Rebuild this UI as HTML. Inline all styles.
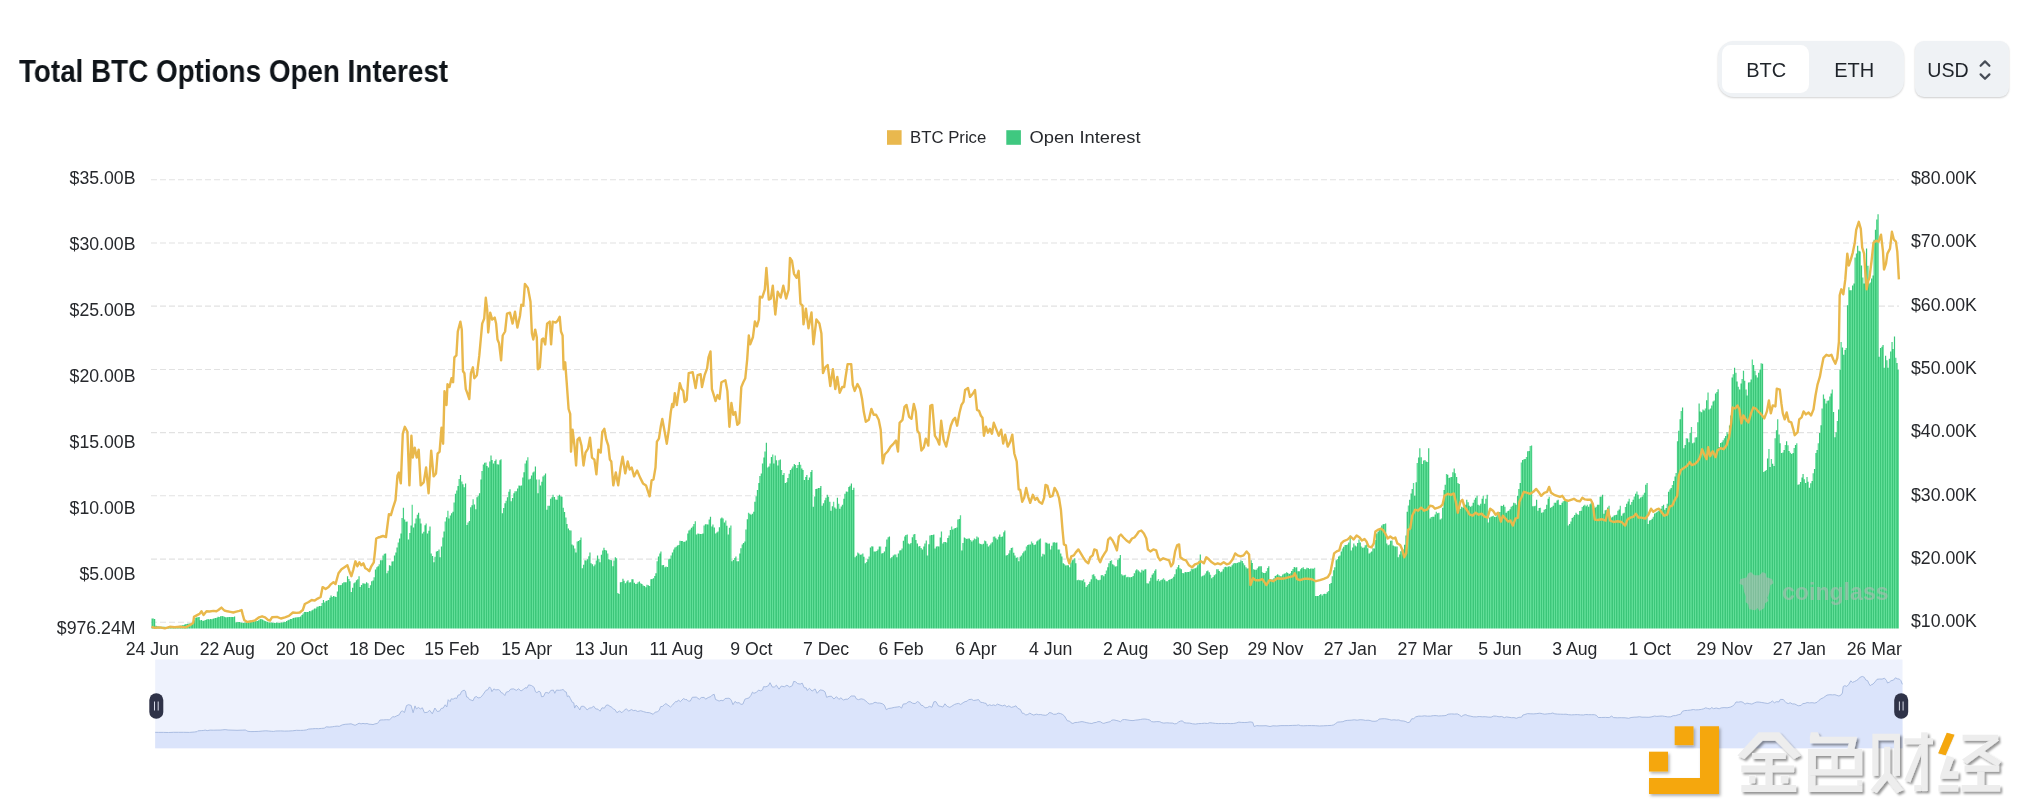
<!DOCTYPE html>
<html><head><meta charset="utf-8"><title>Total BTC Options Open Interest</title>
<style>
html,body{margin:0;padding:0;background:#fff;}
body{width:2017px;height:811px;overflow:hidden;position:relative;font-family:"Liberation Sans",sans-serif;}
#title{position:absolute;left:19px;top:52.8px;font-size:30.5px;font-weight:bold;color:#0f1419;white-space:nowrap;line-height:36px;transform-origin:0 50%;transform:scaleX(0.912);}
#seg{position:absolute;left:1717.5px;top:41px;width:185.5px;height:56px;border-radius:16px;background:#eff2f5;box-shadow:0 1px 2px rgba(0,0,0,.18);}
#seg .on{position:absolute;left:4.2px;top:4px;width:87.3px;height:48px;border-radius:8.5px;background:#fff;}
#seg span{position:absolute;top:0;line-height:59px;font-size:20px;color:#1e2329;transform:translateX(-50%);}
#usd{position:absolute;left:1915px;top:41px;width:94px;height:56px;border-radius:9px;background:#eff2f5;box-shadow:0 1px 2px rgba(0,0,0,.2);}
#usd span{position:absolute;left:33.2px;top:0;line-height:59px;font-size:20px;color:#1e2329;transform:translateX(-50%) scaleX(0.98);}
svg{position:absolute;left:0;top:0;}
#main,#title,#seg,#usd{will-change:transform;}
.ax text{font-size:17.7px;fill:#26282c;}
</style></head><body>
<div id="title">Total BTC Options Open Interest</div>
<div id="seg"><div class="on"></div><span style="left:48.2px">BTC</span><span style="left:136.2px">ETH</span></div>
<div id="usd"><span>USD</span>
<svg width="94" height="56" viewBox="0 0 94 56"><path d="M65.6 24.8 L70 20.4 L74.4 24.8 M65.6 33.4 L70 37.8 L74.4 33.4" fill="none" stroke="#474d57" stroke-width="2.2" stroke-linecap="round" stroke-linejoin="round"/></svg></div>
<svg id="main" width="2017" height="811" viewBox="0 0 2017 811" font-family="Liberation Sans, sans-serif">
<defs>
<pattern id="st" width="2.54" height="10" patternUnits="userSpaceOnUse"><rect width="2.54" height="10" fill="#3fca83"/><rect x="1.7" width="0.84" height="10" fill="#62d99c"/></pattern>
<linearGradient id="sg" gradientUnits="userSpaceOnUse" x1="2.1" y1="0" x2="4.455" y2="0" spreadMethod="repeat"><stop offset="0" stop-color="#62df99"/><stop offset=".3" stop-color="#62df99"/><stop offset=".5" stop-color="#3bc679"/><stop offset=".82" stop-color="#3bc679"/><stop offset="1" stop-color="#62df99"/></linearGradient>
<filter id="sh" x="-10%" y="-10%" width="130%" height="130%"><feDropShadow dx="2" dy="2.2" stdDeviation="1.3" flood-color="#000" flood-opacity=".42"/></filter>
<filter id="sh2" x="-10%" y="-10%" width="130%" height="130%"><feDropShadow dx="1.5" dy="2" stdDeviation="1.5" flood-color="#000" flood-opacity=".3"/></filter>
</defs>
<g stroke="#e2e2e2" stroke-width="1.05" stroke-dasharray="6 3"><line x1="151" x2="1899" y1="179.7" y2="179.7"/><line x1="151" x2="1899" y1="242.9" y2="242.9"/><line x1="151" x2="1899" y1="306.1" y2="306.1"/><line x1="151" x2="1899" y1="369.4" y2="369.4"/><line x1="151" x2="1899" y1="432.6" y2="432.6"/><line x1="151" x2="1899" y1="495.8" y2="495.8"/><line x1="151" x2="1899" y1="559.1" y2="559.1"/><line x1="151" x2="1899" y1="622.3" y2="622.3"/></g>
<rect x="887" y="130.2" width="14.6" height="14.6" fill="#e9b84e"/><rect x="1006.3" y="130.2" width="14.6" height="14.6" fill="#3fc880"/>
<g class="ax"><text x="910" y="143.3" font-size="17" textLength="76.3" lengthAdjust="spacingAndGlyphs" style="font-size:17px">BTC Price</text><text x="1029.5" y="143.3" textLength="111" lengthAdjust="spacingAndGlyphs" style="font-size:17px">Open Interest</text>
<text x="135.5" y="184.0" text-anchor="end">$35.00B</text><text x="135.5" y="249.5" text-anchor="end">$30.00B</text><text x="135.5" y="315.5" text-anchor="end">$25.00B</text><text x="135.5" y="381.5" text-anchor="end">$20.00B</text><text x="135.5" y="448.0" text-anchor="end">$15.00B</text><text x="135.5" y="514.0" text-anchor="end">$10.00B</text><text x="135.5" y="580.0" text-anchor="end">$5.00B</text><text x="135.5" y="633.5" text-anchor="end">$976.24M</text><text x="1911" y="184.0">$80.00K</text><text x="1911" y="247.0">$70.00K</text><text x="1911" y="310.5">$60.00K</text><text x="1911" y="373.5">$50.00K</text><text x="1911" y="437.0">$40.00K</text><text x="1911" y="500.5">$30.00K</text><text x="1911" y="563.5">$20.00K</text><text x="1911" y="627.0">$10.00K</text><text x="152.3" y="655" text-anchor="middle">24 Jun</text><text x="227.2" y="655" text-anchor="middle">22 Aug</text><text x="302.0" y="655" text-anchor="middle">20 Oct</text><text x="376.9" y="655" text-anchor="middle">18 Dec</text><text x="451.8" y="655" text-anchor="middle">15 Feb</text><text x="526.7" y="655" text-anchor="middle">15 Apr</text><text x="601.5" y="655" text-anchor="middle">13 Jun</text><text x="676.4" y="655" text-anchor="middle">11 Aug</text><text x="751.3" y="655" text-anchor="middle">9 Oct</text><text x="826.1" y="655" text-anchor="middle">7 Dec</text><text x="901.0" y="655" text-anchor="middle">6 Feb</text><text x="975.9" y="655" text-anchor="middle">6 Apr</text><text x="1050.7" y="655" text-anchor="middle">4 Jun</text><text x="1125.6" y="655" text-anchor="middle">2 Aug</text><text x="1200.5" y="655" text-anchor="middle">30 Sep</text><text x="1275.4" y="655" text-anchor="middle">29 Nov</text><text x="1350.2" y="655" text-anchor="middle">27 Jan</text><text x="1425.1" y="655" text-anchor="middle">27 Mar</text><text x="1500.0" y="655" text-anchor="middle">5 Jun</text><text x="1574.8" y="655" text-anchor="middle">3 Aug</text><text x="1649.7" y="655" text-anchor="middle">1 Oct</text><text x="1724.6" y="655" text-anchor="middle">29 Nov</text><text x="1799.4" y="655" text-anchor="middle">27 Jan</text><text x="1874.3" y="655" text-anchor="middle">26 Mar</text></g>
<path d="M151.50 628.5V618.5h1.269V618.5h1.269V618.9h1.269V625.8h1.269V626.2h1.269V626.6h1.269V626.8h1.269V626.8h1.269V626.8h1.269V626.8h1.269V626.8h1.269V626.9h1.269V626.9h1.269V626.8h1.269V626.8h1.269V626.7h1.269V626.6h1.269V626.5h1.269V626.4h1.269V626.3h1.269V626.0h1.269V625.9h1.269V625.8h1.269V625.4h1.269V625.2h1.269V624.9h1.269V624.3h1.269V624.1h1.269V623.8h1.269V623.6h1.269V623.4h1.269V623.2h1.269V622.9h1.269V620.3h1.269V617.9h1.269V617.5h1.269V617.2h1.269V616.9h1.269V620.3h1.269V620.1h1.269V620.9h1.269V620.5h1.269V619.9h1.269V619.4h1.269V618.9h1.269V619.4h1.269V618.9h1.269V619.3h1.269V618.7h1.269V618.3h1.269V617.9h1.269V617.8h1.269V616.8h1.269V616.9h1.269V616.3h1.269V615.9h1.269V616.3h1.269V616.8h1.269V617.2h1.269V617.3h1.269V617.0h1.269V617.0h1.269V617.0h1.269V616.9h1.269V616.9h1.269V616.5h1.269V622.5h1.269V622.1h1.269V622.0h1.269V621.9h1.269V622.4h1.269V622.8h1.269V622.9h1.269V622.6h1.269V622.5h1.269V622.4h1.269V622.3h1.269V622.2h1.269V621.9h1.269V621.5h1.269V621.4h1.269V621.2h1.269V621.1h1.269V620.9h1.269V620.3h1.269V619.2h1.269V618.9h1.269V619.6h1.269V620.3h1.269V620.9h1.269V621.6h1.269V621.7h1.269V622.5h1.269V622.4h1.269V622.6h1.269V622.7h1.269V622.8h1.269V622.9h1.269V622.6h1.269V622.7h1.269V622.9h1.269V622.7h1.269V622.5h1.269V622.4h1.269V621.8h1.269V621.9h1.269V620.9h1.269V620.3h1.269V619.8h1.269V618.9h1.269V619.0h1.269V618.0h1.269V617.8h1.269V617.6h1.269V617.3h1.269V617.2h1.269V617.1h1.269V616.5h1.269V614.9h1.269V613.6h1.269V611.9h1.269V612.0h1.269V612.1h1.269V612.1h1.269V611.0h1.269V611.3h1.269V610.3h1.269V609.6h1.269V608.6h1.269V608.6h1.269V606.8h1.269V606.5h1.269V606.1h1.269V606.0h1.269V603.1h1.269V600.0h1.269V602.6h1.269V600.9h1.269V600.4h1.269V600.0h1.269V597.7h1.269V595.6h1.269V597.0h1.269V596.0h1.269V596.4h1.269V597.0h1.269V591.4h1.269V585.1h1.269V585.3h1.269V585.1h1.269V583.2h1.269V582.2h1.269V582.3h1.269V582.2h1.269V576.2h1.269V579.1h1.269V581.2h1.269V592.1h1.269V587.8h1.269V583.2h1.269V582.3h1.269V580.2h1.269V579.3h1.269V576.2h1.269V587.1h1.269V585.0h1.269V583.2h1.269V583.6h1.269V583.7h1.269V582.2h1.269V583.2h1.269V588.1h1.269V585.3h1.269V581.2h1.269V580.5h1.269V577.2h1.269V569.6h1.269V567.3h1.269V566.3h1.269V564.2h1.269V560.3h1.269V560.2h1.269V555.5h1.269V553.8h1.269V553.4h1.269V573.2h1.269V570.7h1.269V565.3h1.269V565.7h1.269V561.6h1.269V561.3h1.269V555.4h1.269V552.5h1.269V547.4h1.269V542.6h1.269V538.5h1.269V533.5h1.269V517.9h1.269V507.7h1.269V519.6h1.269V521.7h1.269V521.6h1.269V539.5h1.269V532.9h1.269V525.6h1.269V504.7h1.269V527.6h1.269V523.6h1.269V518.6h1.269V514.7h1.269V512.7h1.269V518.6h1.269V523.6h1.269V533.5h1.269V531.8h1.269V525.2h1.269V523.6h1.269V533.5h1.269V530.8h1.269V526.6h1.269V553.4h1.269V555.9h1.269V562.3h1.269V556.7h1.269V551.4h1.269V550.9h1.269V549.4h1.269V557.3h1.269V546.4h1.269V537.6h1.269V531.5h1.269V521.6h1.269V517.2h1.269V510.7h1.269V518.6h1.269V515.4h1.269V513.2h1.269V511.7h1.269V502.5h1.269V493.8h1.269V490.5h1.269V485.9h1.269V478.9h1.269V475.0h1.269V481.4h1.269V484.3h1.269V487.3h1.269V483.4h1.269V525.1h1.269V522.5h1.269V521.1h1.269V507.2h1.269V505.2h1.269V499.3h1.269V504.5h1.269V509.2h1.269V497.3h1.269V495.7h1.269V493.3h1.269V479.4h1.269V471.0h1.269V464.5h1.269V462.8h1.269V462.5h1.269V466.1h1.269V467.5h1.269V461.4h1.269V455.6h1.269V460.1h1.269V463.5h1.269V460.9h1.269V459.6h1.269V464.3h1.269V464.5h1.269V460.3h1.269V459.2h1.269V513.2h1.269V508.0h1.269V503.2h1.269V500.8h1.269V497.3h1.269V491.8h1.269V489.3h1.269V501.2h1.269V498.1h1.269V493.3h1.269V491.2h1.269V491.3h1.269V488.6h1.269V485.4h1.269V485.8h1.269V485.4h1.269V477.4h1.269V472.3h1.269V463.5h1.269V460.5h1.269V457.2h1.269V479.4h1.269V478.8h1.269V475.4h1.269V472.4h1.269V471.5h1.269V466.5h1.269V479.5h1.269V493.3h1.269V479.4h1.269V485.4h1.269V481.8h1.269V476.4h1.269V475.3h1.269V473.4h1.269V509.7h1.269V505.8h1.269V505.7h1.269V498.8h1.269V497.2h1.269V494.8h1.269V496.9h1.269V499.4h1.269V499.8h1.269V496.1h1.269V494.8h1.269V496.3h1.269V496.8h1.269V507.7h1.269V512.0h1.269V517.6h1.269V524.1h1.269V528.6h1.269V530.3h1.269V530.5h1.269V544.4h1.269V545.6h1.269V548.4h1.269V552.4h1.269V541.5h1.269V541.0h1.269V540.0h1.269V537.5h1.269V568.3h1.269V564.8h1.269V560.3h1.269V560.4h1.269V559.3h1.269V556.3h1.269V552.4h1.269V563.3h1.269V564.2h1.269V566.3h1.269V564.6h1.269V560.4h1.269V555.4h1.269V558.8h1.269V562.3h1.269V554.8h1.269V550.4h1.269V547.8h1.269V550.0h1.269V550.4h1.269V553.5h1.269V559.3h1.269V560.1h1.269V560.3h1.269V566.3h1.269V560.4h1.269V557.3h1.269V558.3h1.269V593.1h1.269V594.1h1.269V582.2h1.269V582.0h1.269V578.8h1.269V580.8h1.269V583.2h1.269V581.4h1.269V580.2h1.269V582.6h1.269V582.2h1.269V579.3h1.269V579.2h1.269V582.7h1.269V584.1h1.269V583.8h1.269V582.2h1.269V581.5h1.269V583.2h1.269V583.9h1.269V585.6h1.269V586.1h1.269V587.2h1.269V584.8h1.269V585.2h1.269V586.1h1.269V579.2h1.269V579.0h1.269V578.2h1.269V575.9h1.269V573.2h1.269V561.3h1.269V556.4h1.269V553.4h1.269V551.4h1.269V565.3h1.269V564.9h1.269V567.3h1.269V566.6h1.269V566.9h1.269V559.3h1.269V558.8h1.269V555.4h1.269V552.5h1.269V549.6h1.269V547.4h1.269V546.7h1.269V545.4h1.269V545.0h1.269V540.7h1.269V541.1h1.269V541.1h1.269V541.9h1.269V541.6h1.269V540.5h1.269V533.5h1.269V530.5h1.269V529.6h1.269V527.8h1.269V526.6h1.269V524.1h1.269V521.2h1.269V534.5h1.269V533.5h1.269V533.7h1.269V533.9h1.269V534.1h1.269V533.5h1.269V525.6h1.269V524.2h1.269V524.2h1.269V524.6h1.269V519.5h1.269V516.7h1.269V526.6h1.269V524.6h1.269V527.6h1.269V533.5h1.269V532.6h1.269V531.5h1.269V527.2h1.269V518.6h1.269V517.5h1.269V518.6h1.269V522.6h1.269V520.6h1.269V525.8h1.269V534.5h1.269V527.8h1.269V525.6h1.269V561.3h1.269V560.1h1.269V558.1h1.269V556.4h1.269V561.3h1.269V561.3h1.269V553.4h1.269V548.2h1.269V544.4h1.269V543.0h1.269V541.5h1.269V529.6h1.269V519.3h1.269V512.7h1.269V513.8h1.269V514.7h1.269V513.7h1.269V511.7h1.269V501.8h1.269V496.2h1.269V489.9h1.269V483.0h1.269V476.0h1.269V473.4h1.269V463.5h1.269V457.5h1.269V451.6h1.269V442.7h1.269V467.5h1.269V466.4h1.269V463.5h1.269V457.1h1.269V454.6h1.269V463.5h1.269V455.6h1.269V460.3h1.269V465.5h1.269V460.2h1.269V459.6h1.269V469.9h1.269V475.0h1.269V473.0h1.269V482.9h1.269V482.3h1.269V477.9h1.269V473.8h1.269V470.0h1.269V468.5h1.269V466.4h1.269V464.0h1.269V465.0h1.269V468.0h1.269V465.1h1.269V462.1h1.269V464.7h1.269V468.5h1.269V470.0h1.269V479.9h1.269V476.9h1.269V475.0h1.269V479.9h1.269V477.5h1.269V472.0h1.269V470.0h1.269V506.7h1.269V496.6h1.269V488.9h1.269V488.7h1.269V487.9h1.269V488.0h1.269V485.9h1.269V505.7h1.269V503.3h1.269V500.3h1.269V497.8h1.269V494.8h1.269V496.8h1.269V501.8h1.269V510.7h1.269V506.2h1.269V501.8h1.269V507.4h1.269V508.7h1.269V497.8h1.269V503.7h1.269V508.7h1.269V506.6h1.269V504.7h1.269V498.7h1.269V493.8h1.269V491.5h1.269V491.8h1.269V486.9h1.269V485.8h1.269V483.5h1.269V489.9h1.269V487.8h1.269V557.3h1.269V555.8h1.269V552.4h1.269V553.5h1.269V554.8h1.269V554.4h1.269V553.4h1.269V556.8h1.269V563.3h1.269V562.0h1.269V559.3h1.269V556.6h1.269V547.4h1.269V546.3h1.269V546.4h1.269V551.4h1.269V551.6h1.269V551.1h1.269V549.4h1.269V546.6h1.269V546.4h1.269V553.4h1.269V552.9h1.269V551.4h1.269V546.7h1.269V539.5h1.269V537.2h1.269V536.5h1.269V558.3h1.269V557.1h1.269V555.4h1.269V554.4h1.269V554.6h1.269V557.3h1.269V553.6h1.269V550.4h1.269V550.2h1.269V548.4h1.269V540.8h1.269V536.5h1.269V535.1h1.269V534.5h1.269V543.4h1.269V544.3h1.269V543.1h1.269V537.3h1.269V534.5h1.269V533.9h1.269V540.1h1.269V543.4h1.269V546.4h1.269V546.1h1.269V548.0h1.269V549.4h1.269V546.4h1.269V543.6h1.269V540.5h1.269V555.4h1.269V544.2h1.269V535.5h1.269V535.1h1.269V535.1h1.269V534.5h1.269V548.4h1.269V546.6h1.269V546.3h1.269V546.4h1.269V537.6h1.269V531.5h1.269V543.4h1.269V541.9h1.269V542.0h1.269V542.5h1.269V538.1h1.269V535.5h1.269V530.1h1.269V526.6h1.269V529.6h1.269V528.5h1.269V528.1h1.269V527.6h1.269V519.6h1.269V519.0h1.269V515.3h1.269V550.4h1.269V543.0h1.269V537.5h1.269V538.2h1.269V539.0h1.269V538.5h1.269V538.4h1.269V540.1h1.269V541.5h1.269V540.2h1.269V538.5h1.269V539.3h1.269V536.4h1.269V537.5h1.269V543.4h1.269V543.9h1.269V544.4h1.269V543.7h1.269V540.5h1.269V541.2h1.269V543.8h1.269V546.4h1.269V545.2h1.269V543.4h1.269V542.2h1.269V536.8h1.269V536.5h1.269V538.2h1.269V539.5h1.269V536.7h1.269V534.5h1.269V537.0h1.269V536.5h1.269V532.3h1.269V530.5h1.269V555.4h1.269V555.1h1.269V553.4h1.269V550.2h1.269V548.1h1.269V547.4h1.269V552.8h1.269V555.4h1.269V557.7h1.269V557.3h1.269V561.3h1.269V556.8h1.269V555.4h1.269V553.3h1.269V551.4h1.269V550.4h1.269V546.4h1.269V545.0h1.269V544.6h1.269V544.4h1.269V541.5h1.269V543.3h1.269V545.0h1.269V544.4h1.269V541.4h1.269V540.5h1.269V539.4h1.269V538.5h1.269V556.4h1.269V553.7h1.269V554.4h1.269V542.5h1.269V542.8h1.269V543.7h1.269V543.4h1.269V549.4h1.269V545.7h1.269V542.5h1.269V542.2h1.269V542.7h1.269V542.5h1.269V549.4h1.269V549.4h1.269V553.4h1.269V556.6h1.269V563.3h1.269V564.3h1.269V565.6h1.269V565.3h1.269V565.3h1.269V567.3h1.269V562.5h1.269V560.3h1.269V559.6h1.269V558.3h1.269V563.3h1.269V580.2h1.269V579.7h1.269V580.2h1.269V580.2h1.269V580.5h1.269V579.2h1.269V582.3h1.269V587.1h1.269V585.2h1.269V584.1h1.269V581.7h1.269V579.2h1.269V574.7h1.269V574.2h1.269V576.2h1.269V578.8h1.269V579.8h1.269V580.2h1.269V579.7h1.269V575.2h1.269V575.0h1.269V576.2h1.269V573.9h1.269V570.5h1.269V567.3h1.269V563.3h1.269V561.0h1.269V560.3h1.269V564.3h1.269V565.3h1.269V566.5h1.269V566.3h1.269V559.8h1.269V558.3h1.269V555.0h1.269V574.2h1.269V575.5h1.269V575.2h1.269V574.8h1.269V577.2h1.269V576.8h1.269V577.2h1.269V577.2h1.269V577.1h1.269V575.9h1.269V573.2h1.269V570.5h1.269V569.3h1.269V570.3h1.269V571.6h1.269V572.6h1.269V569.8h1.269V570.8h1.269V569.6h1.269V569.3h1.269V583.2h1.269V583.4h1.269V581.2h1.269V577.7h1.269V574.8h1.269V573.2h1.269V570.8h1.269V569.3h1.269V580.8h1.269V579.1h1.269V581.2h1.269V579.9h1.269V579.4h1.269V578.2h1.269V579.8h1.269V581.2h1.269V581.2h1.269V579.9h1.269V579.4h1.269V578.9h1.269V578.2h1.269V576.8h1.269V574.2h1.269V569.3h1.269V567.2h1.269V564.9h1.269V568.2h1.269V569.3h1.269V573.0h1.269V573.2h1.269V572.1h1.269V572.2h1.269V572.1h1.269V572.1h1.269V571.2h1.269V568.7h1.269V569.3h1.269V568.4h1.269V568.3h1.269V567.6h1.269V565.3h1.269V560.7h1.269V554.4h1.269V576.5h1.269V575.7h1.269V575.2h1.269V573.4h1.269V571.2h1.269V570.4h1.269V572.2h1.269V574.8h1.269V578.2h1.269V577.1h1.269V575.2h1.269V574.3h1.269V569.3h1.269V569.3h1.269V571.0h1.269V572.2h1.269V571.4h1.269V569.3h1.269V567.2h1.269V566.8h1.269V567.3h1.269V566.6h1.269V566.3h1.269V566.7h1.269V565.3h1.269V563.5h1.269V563.1h1.269V563.3h1.269V562.9h1.269V562.3h1.269V562.3h1.269V560.3h1.269V561.1h1.269V563.3h1.269V565.3h1.269V567.3h1.269V568.5h1.269V568.3h1.269V565.0h1.269V560.3h1.269V562.9h1.269V569.3h1.269V569.7h1.269V569.7h1.269V568.3h1.269V566.5h1.269V566.2h1.269V566.3h1.269V572.2h1.269V572.9h1.269V572.9h1.269V571.2h1.269V568.0h1.269V566.3h1.269V579.2h1.269V579.5h1.269V579.6h1.269V578.2h1.269V576.1h1.269V575.3h1.269V574.2h1.269V575.2h1.269V576.3h1.269V576.2h1.269V574.4h1.269V573.8h1.269V573.2h1.269V572.2h1.269V573.1h1.269V573.9h1.269V573.2h1.269V570.9h1.269V569.0h1.269V566.9h1.269V567.5h1.269V567.3h1.269V571.2h1.269V571.2h1.269V569.3h1.269V568.1h1.269V567.3h1.269V569.1h1.269V569.3h1.269V567.8h1.269V568.1h1.269V568.9h1.269V568.5h1.269V568.6h1.269V568.7h1.269V567.7h1.269V595.9h1.269V595.9h1.269V596.1h1.269V595.1h1.269V594.1h1.269V595.5h1.269V593.9h1.269V593.7h1.269V594.1h1.269V592.3h1.269V591.1h1.269V584.1h1.269V582.9h1.269V576.2h1.269V570.2h1.269V567.3h1.269V560.3h1.269V558.9h1.269V556.4h1.269V555.4h1.269V551.4h1.269V548.4h1.269V546.8h1.269V545.0h1.269V545.1h1.269V544.4h1.269V542.5h1.269V535.5h1.269V550.4h1.269V547.4h1.269V543.4h1.269V545.6h1.269V546.4h1.269V542.9h1.269V539.5h1.269V542.5h1.269V546.4h1.269V547.8h1.269V547.4h1.269V545.2h1.269V544.4h1.269V548.3h1.269V553.4h1.269V552.6h1.269V551.4h1.269V548.2h1.269V548.4h1.269V539.9h1.269V533.5h1.269V531.7h1.269V529.6h1.269V528.9h1.269V525.6h1.269V524.3h1.269V524.0h1.269V523.6h1.269V543.4h1.269V545.2h1.269V544.4h1.269V540.7h1.269V540.5h1.269V545.4h1.269V546.3h1.269V546.4h1.269V546.6h1.269V557.3h1.269V554.6h1.269V551.2h1.269V548.4h1.269V549.4h1.269V544.8h1.269V535.5h1.269V511.7h1.269V505.5h1.269V499.8h1.269V493.6h1.269V488.9h1.269V482.9h1.269V495.8h1.269V482.2h1.269V463.1h1.269V457.6h1.269V448.2h1.269V457.2h1.269V464.1h1.269V460.4h1.269V460.1h1.269V461.5h1.269V462.1h1.269V448.2h1.269V518.6h1.269V517.1h1.269V516.7h1.269V516.7h1.269V514.4h1.269V511.7h1.269V513.3h1.269V512.7h1.269V519.6h1.269V518.6h1.269V507.7h1.269V489.9h1.269V484.8h1.269V474.0h1.269V474.8h1.269V478.0h1.269V477.3h1.269V477.0h1.269V472.3h1.269V468.6h1.269V473.2h1.269V477.0h1.269V482.9h1.269V483.9h1.269V508.7h1.269V506.7h1.269V507.6h1.269V504.3h1.269V504.7h1.269V499.8h1.269V502.3h1.269V505.7h1.269V506.8h1.269V505.7h1.269V502.7h1.269V499.8h1.269V497.7h1.269V495.8h1.269V504.7h1.269V505.5h1.269V503.7h1.269V498.7h1.269V495.8h1.269V503.7h1.269V498.7h1.269V494.8h1.269V522.6h1.269V517.6h1.269V516.7h1.269V516.3h1.269V515.7h1.269V517.1h1.269V516.7h1.269V514.8h1.269V514.7h1.269V511.9h1.269V505.7h1.269V506.1h1.269V504.7h1.269V506.8h1.269V512.7h1.269V511.3h1.269V510.7h1.269V509.2h1.269V506.7h1.269V505.7h1.269V502.8h1.269V503.3h1.269V504.7h1.269V495.8h1.269V489.0h1.269V482.9h1.269V462.5h1.269V460.1h1.269V459.2h1.269V459.1h1.269V457.0h1.269V451.2h1.269V450.9h1.269V445.9h1.269V445.6h1.269V506.2h1.269V506.2h1.269V505.7h1.269V499.8h1.269V510.7h1.269V508.1h1.269V507.7h1.269V512.7h1.269V512.2h1.269V509.7h1.269V509.1h1.269V504.7h1.269V498.8h1.269V496.8h1.269V507.7h1.269V507.0h1.269V505.7h1.269V502.7h1.269V502.8h1.269V500.4h1.269V499.8h1.269V504.7h1.269V505.1h1.269V502.8h1.269V501.2h1.269V500.8h1.269V500.8h1.269V499.8h1.269V525.6h1.269V524.1h1.269V521.6h1.269V518.0h1.269V516.7h1.269V515.1h1.269V512.7h1.269V514.3h1.269V514.7h1.269V511.0h1.269V510.7h1.269V506.9h1.269V505.7h1.269V504.7h1.269V506.3h1.269V504.7h1.269V506.7h1.269V504.2h1.269V502.8h1.269V504.6h1.269V505.7h1.269V507.7h1.269V506.7h1.269V504.7h1.269V504.7h1.269V496.8h1.269V496.4h1.269V494.8h1.269V513.7h1.269V510.3h1.269V509.7h1.269V507.5h1.269V505.7h1.269V515.7h1.269V517.4h1.269V516.7h1.269V515.4h1.269V515.0h1.269V514.7h1.269V510.7h1.269V509.4h1.269V505.7h1.269V515.7h1.269V513.6h1.269V512.7h1.269V507.1h1.269V503.7h1.269V501.4h1.269V498.8h1.269V504.7h1.269V502.1h1.269V499.8h1.269V496.6h1.269V493.8h1.269V491.4h1.269V494.8h1.269V498.8h1.269V497.4h1.269V496.8h1.269V494.8h1.269V492.8h1.269V484.8h1.269V482.9h1.269V524.1h1.269V520.6h1.269V520.0h1.269V518.8h1.269V516.7h1.269V513.4h1.269V512.7h1.269V511.7h1.269V510.7h1.269V510.7h1.269V508.7h1.269V506.0h1.269V504.7h1.269V509.7h1.269V507.9h1.269V503.7h1.269V491.8h1.269V489.4h1.269V487.9h1.269V485.1h1.269V480.9h1.269V476.5h1.269V473.0h1.269V441.2h1.269V430.7h1.269V419.3h1.269V410.9h1.269V407.4h1.269V448.2h1.269V445.1h1.269V438.2h1.269V438.6h1.269V442.2h1.269V433.0h1.269V426.9h1.269V443.2h1.269V442.4h1.269V437.5h1.269V437.2h1.269V422.3h1.269V403.4h1.269V411.4h1.269V412.3h1.269V409.4h1.269V410.4h1.269V408.4h1.269V400.2h1.269V392.5h1.269V409.4h1.269V408.6h1.269V405.4h1.269V401.4h1.269V400.5h1.269V393.5h1.269V391.9h1.269V389.2h1.269V447.1h1.269V443.1h1.269V442.2h1.269V440.2h1.269V438.2h1.269V436.1h1.269V432.2h1.269V434.2h1.269V425.6h1.269V415.4h1.269V377.6h1.269V374.3h1.269V367.7h1.269V372.8h1.269V381.6h1.269V386.7h1.269V389.6h1.269V383.6h1.269V378.9h1.269V370.7h1.269V380.8h1.269V389.6h1.269V395.5h1.269V382.6h1.269V382.2h1.269V379.6h1.269V359.4h1.269V365.0h1.269V370.7h1.269V375.2h1.269V377.6h1.269V372.7h1.269V369.6h1.269V363.3h1.269V363.7h1.269V471.9h1.269V471.1h1.269V470.0h1.269V458.4h1.269V449.1h1.269V467.0h1.269V459.0h1.269V463.7h1.269V466.0h1.269V438.2h1.269V430.3h1.269V419.3h1.269V434.4h1.269V443.2h1.269V453.1h1.269V452.4h1.269V450.1h1.269V444.9h1.269V441.2h1.269V445.2h1.269V451.1h1.269V452.8h1.269V454.1h1.269V453.0h1.269V448.1h1.269V444.9h1.269V443.2h1.269V484.8h1.269V484.3h1.269V481.9h1.269V477.6h1.269V473.9h1.269V479.3h1.269V482.9h1.269V476.9h1.269V481.8h1.269V487.8h1.269V483.2h1.269V480.9h1.269V473.2h1.269V469.0h1.269V453.1h1.269V450.0h1.269V443.2h1.269V432.9h1.269V425.3h1.269V408.4h1.269V394.5h1.269V398.8h1.269V403.4h1.269V400.8h1.269V400.5h1.269V396.5h1.269V393.5h1.269V389.6h1.269V412.0h1.269V437.2h1.269V432.2h1.269V420.9h1.269V409.4h1.269V369.7h1.269V341.9h1.269V347.6h1.269V354.8h1.269V349.9h1.269V347.9h1.269V305.2h1.269V287.3h1.269V290.2h1.269V290.3h1.269V285.4h1.269V283.4h1.269V257.6h1.269V253.6h1.269V245.7h1.269V250.8h1.269V251.6h1.269V265.5h1.269V277.4h1.269V283.4h1.269V265.5h1.269V248.6h1.269V265.7h1.269V283.4h1.269V282.4h1.269V278.6h1.269V275.4h1.269V239.7h1.269V229.8h1.269V219.4h1.269V214.3h1.269V356.8h1.269V347.9h1.269V346.8h1.269V344.9h1.269V367.7h1.269V355.8h1.269V360.3h1.269V367.7h1.269V358.8h1.269V351.6h1.269V341.9h1.269V348.9h1.269V336.4h1.269V357.8h1.269V363.0h1.269V369.7h1.269V628.5z" fill="url(#sg)"/>
<path d="M151.5 626.8 L154.9 627.8 L159.9 627.4 L164.8 628.4 L169.8 626.8 L174.7 627.2 L179.7 626.8 L185.7 627.4 L190.6 624.8 L193.2 622.9 L194.0 616.9 L197.6 614.9 L199.6 613.9 L201.5 611.3 L203.5 614.9 L206.5 611.3 L209.5 611.5 L213.4 610.9 L216.4 611.3 L218.4 610.0 L221.4 607.6 L224.4 610.5 L227.3 611.3 L230.3 611.9 L233.3 612.5 L236.3 611.7 L239.3 610.9 L241.6 610.1 L242.8 614.9 L244.2 619.9 L247.2 621.9 L251.2 621.3 L255.1 620.3 L259.1 617.3 L262.1 616.3 L265.1 617.3 L268.0 619.9 L270.0 620.5 L272.0 617.3 L277.0 616.9 L280.9 618.5 L284.9 617.3 L288.9 615.9 L292.9 612.5 L296.8 612.9 L299.8 612.5 L302.8 610.0 L304.8 604.0 L308.7 602.0 L311.7 600.0 L314.7 600.6 L317.7 598.6 L320.6 597.0 L322.6 587.1 L325.6 589.1 L328.6 587.1 L331.0 584.1 L333.5 582.2 L335.5 584.1 L338.5 573.2 L341.5 569.3 L344.5 567.3 L347.4 565.3 L349.4 571.2 L351.4 576.2 L353.4 569.3 L355.4 561.3 L357.4 566.3 L359.4 562.3 L361.3 565.3 L363.3 563.3 L365.3 568.3 L367.3 569.3 L369.3 571.2 L371.3 566.3 L373.8 562.3 L375.2 549.4 L376.2 538.5 L378.2 537.5 L380.0 537.0 L383.0 536.0 L386.0 537.0 L388.9 514.1 L390.9 515.1 L392.9 508.2 L395.5 500.2 L397.5 475.4 L398.9 472.5 L400.8 483.4 L402.8 433.7 L404.8 426.8 L407.4 431.8 L409.4 485.4 L411.4 435.7 L412.8 457.6 L414.7 447.6 L416.7 457.6 L418.7 449.6 L420.7 485.4 L423.7 482.4 L426.1 467.5 L428.6 493.3 L431.2 450.6 L433.6 476.4 L436.0 473.4 L437.6 453.6 L439.6 451.6 L441.5 427.8 L443.1 443.7 L444.5 391.1 L446.5 405.0 L447.5 384.1 L449.5 387.1 L451.5 378.2 L453.1 382.2 L454.4 357.3 L456.4 355.4 L457.8 331.5 L460.4 321.6 L461.8 329.6 L463.0 371.2 L464.4 373.2 L465.8 389.1 L467.3 393.1 L469.3 399.0 L470.9 373.2 L472.9 367.3 L474.3 378.2 L476.9 375.2 L479.3 355.4 L482.2 323.6 L484.2 318.6 L485.8 297.8 L487.2 309.7 L488.2 332.5 L490.2 312.7 L492.2 319.6 L494.7 317.6 L496.1 323.6 L497.5 339.5 L499.1 343.4 L501.1 360.3 L502.7 335.5 L505.1 331.5 L507.0 313.7 L510.0 312.7 L512.6 323.6 L515.0 311.7 L517.4 327.6 L520.0 315.7 L521.3 304.7 L523.3 305.7 L524.9 283.9 L527.9 287.9 L530.5 301.8 L531.9 333.5 L533.3 339.5 L535.2 329.6 L536.8 337.5 L537.8 369.3 L539.8 367.3 L541.8 339.5 L543.2 338.5 L545.2 344.4 L547.1 323.6 L549.7 321.6 L551.1 344.4 L552.7 321.6 L555.7 322.6 L557.7 320.6 L559.7 316.7 L561.0 331.5 L562.6 335.5 L563.6 369.3 L565.2 362.3 L566.6 381.2 L568.6 409.0 L570.2 413.9 L571.0 451.6 L572.6 429.8 L574.5 445.7 L576.1 465.5 L577.5 439.7 L579.5 437.7 L581.5 445.7 L583.5 465.5 L585.5 452.6 L588.0 448.6 L590.0 437.7 L592.0 457.6 L594.4 459.6 L596.4 474.4 L598.4 449.6 L600.7 452.6 L602.3 431.8 L604.3 428.8 L606.3 439.7 L608.3 445.7 L609.9 459.6 L611.3 461.5 L613.3 485.4 L615.8 472.5 L618.2 485.4 L620.6 467.5 L622.6 456.6 L625.2 473.4 L627.7 461.5 L629.7 469.5 L631.7 467.5 L634.1 476.4 L637.1 470.5 L640.0 477.4 L643.0 483.4 L646.0 485.4 L649.6 496.3 L651.6 480.4 L653.5 479.4 L655.5 467.5 L656.9 441.7 L658.9 438.7 L660.9 425.8 L662.3 418.9 L664.3 429.8 L666.8 443.7 L668.8 429.8 L670.8 411.9 L672.2 404.0 L673.4 407.0 L674.8 393.1 L676.8 405.0 L679.8 383.2 L681.7 389.1 L683.3 391.1 L684.7 402.0 L686.7 400.0 L688.7 373.2 L692.7 372.2 L695.6 388.1 L697.6 375.2 L700.6 374.2 L702.0 387.1 L704.6 375.2 L707.1 368.3 L708.5 357.3 L710.5 351.4 L711.9 389.1 L713.5 394.1 L715.5 401.0 L717.5 395.1 L719.5 399.0 L721.4 382.2 L725.4 380.2 L727.4 391.1 L729.4 426.8 L731.4 403.0 L733.3 414.9 L735.3 411.9 L737.3 424.8 L739.3 422.9 L741.3 387.1 L743.3 382.2 L745.3 378.2 L747.2 359.3 L748.8 335.5 L750.2 344.4 L752.9 337.3 L754.9 321.5 L756.9 326.4 L758.9 319.5 L759.9 296.7 L762.2 297.6 L764.8 289.7 L766.4 267.9 L768.8 299.6 L770.8 298.6 L772.8 285.7 L775.3 314.5 L777.7 291.7 L780.7 297.6 L783.3 285.7 L786.1 298.6 L788.6 289.7 L790.0 257.9 L792.0 260.9 L794.0 273.8 L796.6 277.8 L798.6 270.8 L800.5 303.6 L802.5 305.6 L803.5 324.4 L805.9 308.6 L808.5 328.4 L811.5 312.5 L813.4 344.3 L816.4 319.5 L819.4 323.4 L821.4 333.4 L823.0 373.1 L825.4 367.1 L827.7 365.1 L830.3 386.0 L832.9 369.1 L835.3 389.0 L837.3 377.0 L839.7 392.9 L842.2 387.0 L844.2 387.0 L845.6 377.0 L847.6 364.1 L851.2 364.1 L852.8 385.0 L854.7 390.9 L857.5 384.0 L860.1 389.0 L862.1 398.9 L863.8 411.8 L865.8 421.8 L868.8 419.8 L871.4 408.9 L873.7 414.8 L876.1 414.8 L878.7 419.8 L880.7 429.7 L882.7 463.4 L884.7 454.5 L887.6 451.5 L890.6 446.6 L893.6 443.6 L896.0 440.6 L898.0 451.5 L899.6 422.8 L902.5 419.8 L904.5 406.9 L906.5 404.9 L909.1 416.8 L911.5 418.8 L913.8 403.9 L915.8 411.8 L917.4 430.7 L919.4 433.7 L921.4 450.5 L923.8 447.6 L925.8 438.6 L928.3 445.6 L930.3 405.9 L932.3 404.9 L934.9 435.7 L937.3 439.6 L939.3 444.6 L941.2 420.8 L943.6 439.6 L946.2 446.6 L948.2 437.6 L950.8 425.7 L953.2 419.8 L955.1 417.8 L957.1 425.7 L959.5 412.8 L961.5 404.9 L963.5 401.9 L965.1 390.0 L968.0 388.0 L970.0 396.9 L972.6 394.0 L975.0 390.0 L977.0 409.9 L979.0 410.8 L980.9 415.8 L982.5 417.8 L983.9 435.7 L985.9 426.7 L987.9 432.7 L989.9 428.7 L991.9 433.7 L993.8 422.8 L996.4 429.7 L998.8 435.7 L1001.2 429.7 L1003.2 443.6 L1005.2 434.7 L1007.7 446.6 L1010.3 441.6 L1012.3 434.7 L1014.3 453.5 L1016.7 461.5 L1018.7 489.3 L1020.2 489.9 L1022.2 501.8 L1024.2 497.8 L1026.2 487.9 L1028.2 496.8 L1030.2 502.8 L1032.8 494.8 L1035.1 499.8 L1037.1 497.8 L1039.1 501.8 L1042.1 503.7 L1044.1 497.8 L1045.5 484.9 L1047.4 485.9 L1050.0 496.8 L1052.6 495.8 L1054.6 487.9 L1057.0 491.8 L1059.0 497.8 L1060.9 509.7 L1062.5 529.6 L1063.9 544.4 L1065.9 545.4 L1067.3 557.3 L1069.3 563.3 L1071.3 556.4 L1073.8 555.4 L1075.8 552.4 L1078.4 549.4 L1080.8 553.4 L1083.2 557.3 L1085.8 561.3 L1088.3 563.3 L1090.3 557.3 L1092.7 555.4 L1094.3 549.4 L1096.7 550.4 L1098.7 559.3 L1100.2 562.3 L1102.2 557.3 L1104.6 553.4 L1106.6 550.4 L1108.2 539.5 L1110.2 537.5 L1112.6 540.5 L1114.5 544.4 L1116.9 550.4 L1118.9 536.5 L1120.9 534.5 L1123.5 537.5 L1126.5 540.5 L1129.4 542.5 L1132.0 538.5 L1134.4 537.5 L1136.8 534.5 L1138.8 531.5 L1141.3 530.5 L1143.9 533.5 L1146.3 538.5 L1147.9 549.4 L1150.3 551.4 L1153.3 549.4 L1156.2 550.4 L1158.2 557.3 L1160.2 560.3 L1163.2 558.3 L1166.2 559.3 L1169.1 560.3 L1171.1 566.3 L1173.1 563.3 L1175.1 551.4 L1177.1 545.4 L1179.1 544.4 L1180.4 557.3 L1183.0 559.3 L1186.0 560.3 L1189.0 565.3 L1192.0 567.3 L1194.9 564.3 L1197.9 563.3 L1200.9 561.3 L1203.9 563.3 L1206.3 557.3 L1208.8 559.3 L1211.8 562.3 L1214.8 564.3 L1217.8 563.3 L1220.7 564.3 L1223.7 562.3 L1226.7 564.3 L1229.7 563.3 L1232.7 559.3 L1235.2 553.4 L1237.6 555.4 L1240.6 556.4 L1243.6 555.4 L1246.6 551.4 L1249.1 554.4 L1250.5 585.1 L1253.1 578.2 L1255.5 580.2 L1259.5 580.2 L1262.4 579.2 L1266.4 585.1 L1269.4 580.2 L1273.3 581.2 L1277.3 578.2 L1281.3 578.8 L1285.3 578.2 L1289.2 577.2 L1293.2 576.2 L1294.8 573.2 L1297.2 579.2 L1300.0 580.2 L1304.0 578.8 L1307.9 578.8 L1311.9 579.2 L1315.9 581.2 L1319.9 580.2 L1323.8 578.8 L1327.8 577.2 L1330.2 573.2 L1332.2 563.3 L1334.1 553.4 L1336.7 551.4 L1339.3 550.4 L1341.3 543.4 L1343.7 541.1 L1347.6 539.5 L1350.6 536.5 L1353.6 539.5 L1356.6 535.5 L1359.6 537.5 L1361.9 540.5 L1364.5 539.1 L1366.5 541.5 L1368.5 546.4 L1371.5 547.4 L1373.8 543.4 L1375.4 531.5 L1378.4 529.6 L1381.0 528.6 L1383.4 530.5 L1385.8 534.5 L1387.7 538.5 L1390.3 536.5 L1392.9 538.5 L1395.3 537.5 L1397.3 543.4 L1400.2 545.0 L1402.2 549.4 L1404.2 557.3 L1406.2 553.4 L1408.2 529.6 L1410.2 528.6 L1412.2 515.7 L1415.1 509.7 L1418.1 510.7 L1421.1 507.7 L1424.1 510.7 L1427.0 509.7 L1430.0 505.7 L1432.6 506.1 L1435.0 508.7 L1438.0 507.7 L1440.5 506.7 L1442.5 504.7 L1444.5 495.8 L1447.9 493.8 L1450.9 494.8 L1453.8 493.4 L1455.8 501.8 L1457.8 512.7 L1460.4 501.8 L1462.4 499.8 L1464.4 506.7 L1466.7 509.7 L1469.7 514.7 L1472.7 515.7 L1475.7 512.7 L1478.7 514.7 L1481.6 513.7 L1484.6 516.7 L1487.6 517.6 L1490.2 508.7 L1493.0 510.7 L1495.5 514.7 L1498.1 512.7 L1500.9 521.6 L1502.9 515.7 L1505.5 518.6 L1508.0 521.6 L1510.4 520.6 L1512.8 525.6 L1515.4 518.6 L1518.0 517.6 L1519.4 501.8 L1521.3 497.8 L1523.9 491.8 L1527.3 492.8 L1530.3 493.8 L1533.3 491.8 L1536.2 488.9 L1539.2 492.8 L1541.2 495.8 L1544.2 492.8 L1547.1 491.8 L1549.1 486.9 L1551.1 492.8 L1554.1 494.8 L1557.1 495.8 L1560.0 496.8 L1562.4 495.8 L1565.0 499.8 L1568.0 500.8 L1571.0 499.8 L1573.9 498.8 L1576.9 500.8 L1579.9 501.4 L1582.3 497.8 L1584.9 499.4 L1587.8 499.8 L1590.8 499.8 L1592.8 503.7 L1594.8 519.6 L1597.8 520.0 L1601.7 519.2 L1605.7 520.6 L1608.1 509.7 L1610.1 520.6 L1613.6 522.0 L1617.6 521.2 L1621.6 522.0 L1625.2 525.6 L1627.5 519.6 L1630.5 517.6 L1633.5 516.7 L1635.9 513.7 L1638.5 517.6 L1641.4 517.6 L1645.4 518.6 L1648.4 514.7 L1651.0 508.7 L1653.3 511.7 L1656.3 509.7 L1658.9 508.7 L1661.3 511.7 L1664.3 515.7 L1667.2 514.7 L1669.6 506.7 L1672.2 505.7 L1674.8 499.8 L1677.2 495.8 L1678.8 476.0 L1680.9 470.0 L1683.9 468.0 L1686.8 466.1 L1689.8 462.1 L1691.8 465.1 L1694.8 464.1 L1697.8 461.1 L1700.1 457.1 L1702.1 449.2 L1704.1 454.1 L1706.7 459.1 L1708.1 447.2 L1710.1 456.1 L1712.7 451.2 L1715.6 457.1 L1717.6 450.2 L1720.6 448.2 L1723.6 449.2 L1726.6 445.2 L1729.1 437.3 L1731.1 423.4 L1732.5 407.5 L1735.1 408.5 L1737.5 405.5 L1739.5 409.5 L1741.4 423.4 L1743.4 415.4 L1745.8 419.4 L1748.4 422.4 L1751.0 413.4 L1753.3 407.5 L1755.7 408.5 L1758.3 411.5 L1761.3 414.4 L1764.3 418.4 L1766.9 411.4 L1768.9 400.5 L1770.8 413.4 L1772.8 405.4 L1775.4 406.4 L1776.8 388.6 L1779.8 389.6 L1781.4 403.4 L1782.8 413.4 L1784.7 419.3 L1786.7 412.4 L1788.7 421.3 L1791.3 422.3 L1793.3 429.3 L1794.7 435.2 L1797.6 432.2 L1799.2 419.3 L1801.6 417.3 L1803.6 411.4 L1806.0 414.4 L1808.6 412.4 L1811.1 415.4 L1813.5 409.4 L1815.5 395.5 L1817.5 384.6 L1819.9 376.7 L1821.5 367.7 L1823.5 357.8 L1826.4 354.8 L1829.0 355.8 L1831.4 354.8 L1833.4 359.8 L1835.4 363.7 L1837.3 357.8 L1838.9 341.9 L1839.7 295.3 L1841.3 289.3 L1843.3 294.3 L1845.3 279.4 L1847.3 253.6 L1848.9 265.5 L1850.8 259.6 L1852.8 252.6 L1854.8 242.7 L1856.2 229.8 L1858.8 221.8 L1860.8 228.8 L1862.2 247.6 L1864.1 253.6 L1865.1 269.5 L1866.7 289.3 L1868.1 281.4 L1869.5 277.4 L1871.5 261.5 L1873.5 242.7 L1876.1 240.7 L1878.6 241.7 L1881.0 234.7 L1883.0 251.6 L1884.0 269.5 L1886.0 263.5 L1887.4 253.6 L1890.0 248.6 L1891.9 231.8 L1893.9 239.7 L1895.9 241.7 L1897.3 251.6 L1898.9 279.4" fill="none" stroke="#e9b84c" stroke-width="2.4" stroke-linejoin="round" stroke-linecap="butt"/>
<!-- watermark -->
<g opacity=".55" fill="#b8b8b8"><path d="M1748.8 573.9 L1750.7 572.9 L1753.7 575.9 L1759.7 575.9 L1762.6 572.9 L1765.1 573.9 L1765.6 577.8 L1771.6 579.8 L1772.6 582.8 L1769.6 584.8 L1768.6 592.7 L1766.6 597.7 L1767.6 600.7 L1764.6 602.6 L1763.6 607.6 L1759.7 610.1 L1757.7 606.6 L1754.7 609.6 L1749.7 608.6 L1748.8 603.6 L1746.3 601.6 L1746.8 596.7 L1744.8 591.7 L1743.8 584.8 L1740.3 583.3 L1740.8 579.8 L1746.8 578.3Z" stroke="#b8b8b8" stroke-width="1.5" stroke-linejoin="round"/><text x="1782" y="599.7" font-size="24.8" font-weight="bold" textLength="106.6" lengthAdjust="spacingAndGlyphs">coinglass</text></g>
<!-- slider -->
<rect x="155.2" y="659.5" width="1747.3" height="88.79999999999995" fill="#eef2fd"/>
<path d="M155.2 732.3 L158.6 732.4 L163.6 732.4 L168.5 732.5 L173.5 732.3 L178.4 732.3 L183.4 732.3 L189.4 732.4 L194.3 732.0 L196.9 731.7 L197.7 730.9 L201.3 730.6 L203.2 730.5 L205.2 730.1 L207.2 730.6 L210.2 730.1 L213.2 730.2 L217.1 730.1 L220.1 730.1 L222.1 729.9 L225.1 729.6 L228.1 730.0 L231.0 730.1 L234.0 730.2 L237.0 730.3 L240.0 730.2 L242.9 730.1 L245.3 730.0 L246.5 730.6 L247.9 731.3 L250.9 731.6 L254.9 731.5 L258.8 731.4 L262.8 731.0 L265.8 730.8 L268.7 731.0 L271.7 731.3 L273.7 731.4 L275.7 731.0 L280.7 730.9 L284.6 731.1 L288.6 731.0 L292.6 730.8 L296.5 730.3 L300.5 730.4 L303.5 730.3 L306.5 729.9 L308.4 729.1 L312.4 728.8 L315.4 728.6 L318.4 728.7 L321.3 728.4 L324.3 728.2 L326.3 726.8 L329.3 727.1 L332.3 726.8 L334.6 726.4 L337.2 726.1 L339.2 726.4 L342.2 724.9 L345.2 724.3 L348.1 724.1 L351.1 723.8 L353.1 724.6 L355.1 725.3 L357.1 724.3 L359.1 723.2 L361.0 723.9 L363.0 723.4 L365.0 723.8 L367.0 723.5 L369.0 724.2 L371.0 724.3 L373.0 724.6 L374.9 723.9 L377.5 723.4 L378.9 721.6 L379.9 720.1 L381.9 719.9 L383.7 719.9 L386.7 719.7 L389.6 719.9 L392.6 716.7 L394.6 716.9 L396.6 715.9 L399.2 714.8 L401.1 711.4 L402.5 711.0 L404.5 712.5 L406.5 705.6 L408.5 704.7 L411.1 705.4 L413.1 712.7 L415.0 705.9 L416.4 708.9 L418.4 707.5 L420.4 708.9 L422.4 707.8 L424.4 712.7 L427.3 712.3 L429.7 710.3 L432.3 713.8 L434.9 708.0 L437.3 711.5 L439.6 711.1 L441.2 708.4 L443.2 708.1 L445.2 704.8 L446.8 707.0 L448.2 699.7 L450.2 701.7 L451.2 698.8 L453.1 699.2 L455.1 698.0 L456.7 698.5 L458.1 695.1 L460.1 694.8 L461.5 691.5 L464.1 690.1 L465.5 691.2 L466.6 697.0 L468.0 697.3 L469.4 699.5 L471.0 700.0 L473.0 700.8 L474.6 697.3 L476.6 696.5 L478.0 698.0 L480.5 697.5 L482.9 694.8 L485.9 690.4 L487.9 689.7 L489.5 686.9 L490.9 688.5 L491.9 691.7 L493.8 688.9 L495.8 689.9 L498.4 689.6 L499.8 690.4 L501.2 692.6 L502.8 693.2 L504.8 695.5 L506.3 692.1 L508.7 691.5 L510.7 689.1 L513.7 688.9 L516.3 690.4 L518.6 688.8 L521.0 691.0 L523.6 689.3 L525.0 687.8 L527.0 688.0 L528.6 684.9 L531.5 685.5 L534.1 687.4 L535.5 691.8 L536.9 692.6 L538.9 691.2 L540.5 692.3 L541.5 696.7 L543.5 696.5 L545.4 692.6 L546.8 692.5 L548.8 693.3 L550.8 690.4 L553.4 690.1 L554.8 693.3 L556.4 690.1 L559.3 690.3 L561.3 690.0 L563.3 689.5 L564.7 691.5 L566.3 692.1 L567.3 696.7 L568.9 695.8 L570.3 698.4 L572.2 702.2 L573.8 702.9 L574.6 708.1 L576.2 705.1 L578.2 707.3 L579.8 710.0 L581.2 706.4 L583.2 706.2 L585.1 707.3 L587.1 710.0 L589.1 708.2 L591.7 707.7 L593.7 706.2 L595.7 708.9 L598.0 709.2 L600.0 711.2 L602.0 707.8 L604.4 708.2 L606.0 705.4 L608.0 704.9 L610.0 706.4 L611.9 707.3 L613.5 709.2 L614.9 709.5 L616.9 712.7 L619.5 711.0 L621.9 712.7 L624.2 710.3 L626.2 708.8 L628.8 711.1 L631.4 709.5 L633.4 710.6 L635.4 710.3 L637.7 711.5 L640.7 710.7 L643.7 711.7 L646.7 712.5 L649.6 712.7 L653.2 714.3 L655.2 712.1 L657.2 711.9 L659.2 710.3 L660.6 706.7 L662.6 706.3 L664.5 704.5 L665.9 703.6 L667.9 705.1 L670.5 707.0 L672.5 705.1 L674.5 702.6 L675.8 701.5 L677.0 701.9 L678.4 700.0 L680.4 701.7 L683.4 698.6 L685.4 699.5 L687.0 699.7 L688.4 701.2 L690.3 701.0 L692.3 697.3 L696.3 697.1 L699.3 699.3 L701.3 697.5 L704.2 697.4 L705.6 699.2 L708.2 697.5 L710.8 696.6 L712.2 695.1 L714.2 694.3 L715.5 699.5 L717.1 700.1 L719.1 701.1 L721.1 700.3 L723.1 700.8 L725.1 698.5 L729.0 698.2 L731.0 699.7 L733.0 704.7 L735.0 701.4 L737.0 703.0 L739.0 702.6 L741.0 704.4 L742.9 704.1 L744.9 699.2 L746.9 698.5 L748.9 698.0 L750.9 695.4 L752.5 692.1 L753.9 693.3 L756.5 692.3 L758.5 690.1 L760.5 690.8 L762.5 689.9 L763.5 686.7 L765.9 686.8 L768.4 685.7 L770.0 682.7 L772.4 687.1 L774.4 687.0 L776.4 685.2 L779.0 689.2 L781.3 686.0 L784.3 686.8 L786.9 685.2 L789.7 687.0 L792.3 685.7 L793.7 681.4 L795.6 681.8 L797.6 683.6 L800.2 684.1 L802.2 683.1 L804.2 687.7 L806.2 687.9 L807.1 690.5 L809.5 688.3 L812.1 691.1 L815.1 688.9 L817.1 693.3 L820.1 689.9 L823.0 690.4 L825.0 691.8 L826.6 697.3 L829.0 696.4 L831.4 696.2 L833.9 699.0 L836.5 696.7 L838.9 699.4 L840.9 697.8 L843.3 700.0 L845.9 699.2 L847.8 699.2 L849.2 697.8 L851.2 696.0 L854.8 696.0 L856.4 698.9 L858.4 699.7 L861.1 698.8 L863.7 699.4 L865.7 700.8 L867.4 702.6 L869.4 704.0 L872.4 703.7 L875.0 702.2 L877.4 703.0 L879.7 703.0 L882.3 703.7 L884.3 705.1 L886.3 709.7 L888.3 708.5 L891.3 708.1 L894.2 707.4 L897.2 707.0 L899.6 706.6 L901.6 708.1 L903.2 704.1 L906.1 703.7 L908.1 701.9 L910.1 701.6 L912.7 703.3 L915.1 703.6 L917.5 701.5 L919.4 702.6 L921.0 705.2 L923.0 705.6 L925.0 707.9 L927.4 707.5 L929.4 706.3 L931.9 707.3 L933.9 701.8 L935.9 701.6 L938.5 705.9 L940.9 706.4 L942.9 707.1 L944.9 703.8 L947.2 706.4 L949.8 707.4 L951.8 706.2 L954.4 704.5 L956.8 703.7 L958.7 703.4 L960.7 704.5 L963.1 702.7 L965.1 701.6 L967.1 701.2 L968.7 699.6 L971.6 699.3 L973.6 700.5 L976.2 700.1 L978.6 699.6 L980.6 702.3 L982.6 702.5 L984.5 703.1 L986.1 703.4 L987.5 705.9 L989.5 704.7 L991.5 705.5 L993.5 704.9 L995.5 705.6 L997.4 704.1 L1000.0 705.1 L1002.4 705.9 L1004.8 705.1 L1006.8 707.0 L1008.8 705.8 L1011.3 707.4 L1013.9 706.7 L1015.9 705.8 L1017.9 708.4 L1020.3 709.4 L1022.3 713.3 L1023.8 713.4 L1025.8 715.0 L1027.8 714.5 L1029.8 713.1 L1031.8 714.3 L1033.8 715.1 L1036.4 714.1 L1038.7 714.7 L1040.7 714.5 L1042.7 715.0 L1045.7 715.3 L1047.7 714.5 L1049.1 712.7 L1051.0 712.8 L1053.6 714.3 L1056.2 714.2 L1058.2 713.1 L1060.6 713.6 L1062.6 714.5 L1064.5 716.1 L1066.1 718.8 L1067.5 720.9 L1069.5 721.0 L1070.9 722.7 L1072.9 723.5 L1074.9 722.5 L1077.4 722.4 L1079.4 722.0 L1082.0 721.6 L1084.4 722.1 L1086.8 722.7 L1089.3 723.2 L1091.9 723.5 L1093.9 722.7 L1096.3 722.4 L1097.9 721.6 L1100.3 721.7 L1102.3 723.0 L1103.8 723.4 L1105.8 722.7 L1108.2 722.1 L1110.2 721.7 L1111.8 720.2 L1113.8 719.9 L1116.1 720.4 L1118.1 720.9 L1120.5 721.7 L1122.5 719.8 L1124.5 719.5 L1127.1 719.9 L1130.0 720.4 L1133.0 720.6 L1135.6 720.1 L1138.0 719.9 L1140.4 719.5 L1142.3 719.1 L1144.9 719.0 L1147.5 719.4 L1149.9 720.1 L1151.5 721.6 L1153.9 721.9 L1156.8 721.6 L1159.8 721.7 L1161.8 722.7 L1163.8 723.1 L1166.8 722.8 L1169.7 723.0 L1172.7 723.1 L1174.7 723.9 L1176.7 723.5 L1178.7 721.9 L1180.7 721.0 L1182.6 720.9 L1184.0 722.7 L1186.6 723.0 L1189.6 723.1 L1192.6 723.8 L1195.5 724.1 L1198.5 723.6 L1201.5 723.5 L1204.5 723.2 L1207.5 723.5 L1209.8 722.7 L1212.4 723.0 L1215.4 723.4 L1218.4 723.6 L1221.3 723.5 L1224.3 723.6 L1227.3 723.4 L1230.3 723.6 L1233.3 723.5 L1236.2 723.0 L1238.8 722.1 L1241.2 722.4 L1244.2 722.5 L1247.1 722.4 L1250.1 721.9 L1252.7 722.3 L1254.1 726.5 L1256.7 725.6 L1259.1 725.8 L1263.0 725.8 L1266.0 725.7 L1270.0 726.5 L1273.0 725.8 L1276.9 726.0 L1280.9 725.6 L1284.9 725.6 L1288.8 725.6 L1292.8 725.4 L1296.8 725.3 L1298.4 724.9 L1300.7 725.7 L1303.6 725.8 L1307.5 725.6 L1311.5 725.6 L1315.5 725.7 L1319.4 726.0 L1323.4 725.8 L1327.4 725.6 L1331.4 725.4 L1333.7 724.9 L1335.7 723.5 L1337.7 722.1 L1340.3 721.9 L1342.9 721.7 L1344.9 720.8 L1347.2 720.4 L1351.2 720.2 L1354.2 719.8 L1357.2 720.2 L1360.1 719.7 L1363.1 719.9 L1365.5 720.4 L1368.1 720.2 L1370.1 720.5 L1372.0 721.2 L1375.0 721.3 L1377.4 720.8 L1379.0 719.1 L1382.0 718.8 L1384.6 718.7 L1386.9 719.0 L1389.3 719.5 L1391.3 720.1 L1393.9 719.8 L1396.5 720.1 L1398.8 719.9 L1400.8 720.8 L1403.8 721.0 L1405.8 721.6 L1407.8 722.7 L1409.8 722.1 L1411.7 718.8 L1413.7 718.7 L1415.7 716.9 L1418.7 716.1 L1421.7 716.2 L1424.6 715.8 L1427.6 716.2 L1430.6 716.1 L1433.6 715.6 L1436.2 715.6 L1438.5 716.0 L1441.5 715.8 L1444.1 715.7 L1446.1 715.4 L1448.1 714.2 L1451.4 713.9 L1454.4 714.1 L1457.4 713.9 L1459.4 715.0 L1461.4 716.5 L1463.9 715.0 L1465.9 714.7 L1467.9 715.7 L1470.3 716.1 L1473.3 716.8 L1476.3 716.9 L1479.2 716.5 L1482.2 716.8 L1485.2 716.7 L1488.2 717.1 L1491.1 717.2 L1493.7 716.0 L1496.5 716.2 L1499.1 716.8 L1501.7 716.5 L1504.4 717.7 L1506.4 716.9 L1509.0 717.3 L1511.6 717.7 L1514.0 717.6 L1516.3 718.3 L1518.9 717.3 L1521.5 717.2 L1522.9 715.0 L1524.9 714.5 L1527.5 713.6 L1530.8 713.8 L1533.8 713.9 L1536.8 713.6 L1539.8 713.2 L1542.7 713.8 L1544.7 714.2 L1547.7 713.8 L1550.7 713.6 L1552.7 713.0 L1554.7 713.8 L1557.6 714.1 L1560.6 714.2 L1563.6 714.3 L1566.0 714.2 L1568.6 714.7 L1571.5 714.9 L1574.5 714.7 L1577.5 714.6 L1580.5 714.9 L1583.4 715.0 L1585.8 714.5 L1588.4 714.7 L1591.4 714.7 L1594.4 714.7 L1596.3 715.3 L1598.3 717.5 L1601.3 717.5 L1605.3 717.4 L1609.2 717.6 L1611.6 716.1 L1613.6 717.6 L1617.2 717.8 L1621.2 717.7 L1625.1 717.8 L1628.7 718.3 L1631.1 717.5 L1634.1 717.2 L1637.0 717.1 L1639.4 716.7 L1642.0 717.2 L1645.0 717.2 L1648.9 717.3 L1651.9 716.8 L1654.5 716.0 L1656.9 716.4 L1659.9 716.1 L1662.4 716.0 L1664.8 716.4 L1667.8 716.9 L1670.8 716.8 L1673.2 715.7 L1675.7 715.6 L1678.3 714.7 L1680.7 714.2 L1682.3 711.4 L1684.4 710.6 L1687.4 710.4 L1690.4 710.1 L1693.4 709.5 L1695.3 709.9 L1698.3 709.8 L1701.3 709.4 L1703.7 708.8 L1705.7 707.8 L1707.6 708.4 L1710.2 709.1 L1711.6 707.5 L1713.6 708.7 L1716.2 708.0 L1719.2 708.8 L1721.1 707.9 L1724.1 707.6 L1727.1 707.8 L1730.1 707.2 L1732.7 706.1 L1734.6 704.2 L1736.0 702.0 L1738.6 702.1 L1741.0 701.7 L1743.0 702.3 L1745.0 704.2 L1746.9 703.1 L1749.3 703.6 L1751.9 704.1 L1754.5 702.8 L1756.9 702.0 L1759.2 702.1 L1761.8 702.5 L1764.8 703.0 L1767.8 703.5 L1770.4 702.5 L1772.4 701.0 L1774.4 702.8 L1776.3 701.7 L1778.9 701.9 L1780.3 699.4 L1783.3 699.5 L1784.9 701.4 L1786.3 702.8 L1788.3 703.6 L1790.2 702.7 L1792.2 703.9 L1794.8 704.0 L1796.8 705.0 L1798.2 705.8 L1801.2 705.4 L1802.7 703.6 L1805.1 703.4 L1807.1 702.5 L1809.5 702.9 L1812.1 702.7 L1814.7 703.1 L1817.0 702.3 L1819.0 700.3 L1821.0 698.8 L1823.4 697.7 L1825.0 696.5 L1827.0 695.1 L1829.9 694.7 L1832.5 694.9 L1834.9 694.7 L1836.9 695.4 L1838.9 696.0 L1840.9 695.1 L1842.4 693.0 L1843.2 686.5 L1844.8 685.7 L1846.8 686.4 L1848.8 684.3 L1850.8 680.8 L1852.4 682.4 L1854.4 681.6 L1856.3 680.6 L1858.3 679.3 L1859.7 677.5 L1862.3 676.4 L1864.3 677.3 L1865.7 679.9 L1867.7 680.8 L1868.6 683.0 L1870.2 685.7 L1871.6 684.6 L1873.0 684.1 L1875.0 681.9 L1877.0 679.3 L1879.6 679.0 L1882.1 679.1 L1884.5 678.2 L1886.5 680.5 L1887.5 683.0 L1889.5 682.1 L1890.9 680.8 L1893.5 680.1 L1895.4 677.8 L1897.4 678.8 L1899.4 679.1 L1900.8 680.5 L1902.4 684.3 L1902.5 748.3 L155.2 748.3 Z" fill="#dbe4fb"/>
<path d="M155.2 732.3 L158.6 732.4 L163.6 732.4 L168.5 732.5 L173.5 732.3 L178.4 732.3 L183.4 732.3 L189.4 732.4 L194.3 732.0 L196.9 731.7 L197.7 730.9 L201.3 730.6 L203.2 730.5 L205.2 730.1 L207.2 730.6 L210.2 730.1 L213.2 730.2 L217.1 730.1 L220.1 730.1 L222.1 729.9 L225.1 729.6 L228.1 730.0 L231.0 730.1 L234.0 730.2 L237.0 730.3 L240.0 730.2 L242.9 730.1 L245.3 730.0 L246.5 730.6 L247.9 731.3 L250.9 731.6 L254.9 731.5 L258.8 731.4 L262.8 731.0 L265.8 730.8 L268.7 731.0 L271.7 731.3 L273.7 731.4 L275.7 731.0 L280.7 730.9 L284.6 731.1 L288.6 731.0 L292.6 730.8 L296.5 730.3 L300.5 730.4 L303.5 730.3 L306.5 729.9 L308.4 729.1 L312.4 728.8 L315.4 728.6 L318.4 728.7 L321.3 728.4 L324.3 728.2 L326.3 726.8 L329.3 727.1 L332.3 726.8 L334.6 726.4 L337.2 726.1 L339.2 726.4 L342.2 724.9 L345.2 724.3 L348.1 724.1 L351.1 723.8 L353.1 724.6 L355.1 725.3 L357.1 724.3 L359.1 723.2 L361.0 723.9 L363.0 723.4 L365.0 723.8 L367.0 723.5 L369.0 724.2 L371.0 724.3 L373.0 724.6 L374.9 723.9 L377.5 723.4 L378.9 721.6 L379.9 720.1 L381.9 719.9 L383.7 719.9 L386.7 719.7 L389.6 719.9 L392.6 716.7 L394.6 716.9 L396.6 715.9 L399.2 714.8 L401.1 711.4 L402.5 711.0 L404.5 712.5 L406.5 705.6 L408.5 704.7 L411.1 705.4 L413.1 712.7 L415.0 705.9 L416.4 708.9 L418.4 707.5 L420.4 708.9 L422.4 707.8 L424.4 712.7 L427.3 712.3 L429.7 710.3 L432.3 713.8 L434.9 708.0 L437.3 711.5 L439.6 711.1 L441.2 708.4 L443.2 708.1 L445.2 704.8 L446.8 707.0 L448.2 699.7 L450.2 701.7 L451.2 698.8 L453.1 699.2 L455.1 698.0 L456.7 698.5 L458.1 695.1 L460.1 694.8 L461.5 691.5 L464.1 690.1 L465.5 691.2 L466.6 697.0 L468.0 697.3 L469.4 699.5 L471.0 700.0 L473.0 700.8 L474.6 697.3 L476.6 696.5 L478.0 698.0 L480.5 697.5 L482.9 694.8 L485.9 690.4 L487.9 689.7 L489.5 686.9 L490.9 688.5 L491.9 691.7 L493.8 688.9 L495.8 689.9 L498.4 689.6 L499.8 690.4 L501.2 692.6 L502.8 693.2 L504.8 695.5 L506.3 692.1 L508.7 691.5 L510.7 689.1 L513.7 688.9 L516.3 690.4 L518.6 688.8 L521.0 691.0 L523.6 689.3 L525.0 687.8 L527.0 688.0 L528.6 684.9 L531.5 685.5 L534.1 687.4 L535.5 691.8 L536.9 692.6 L538.9 691.2 L540.5 692.3 L541.5 696.7 L543.5 696.5 L545.4 692.6 L546.8 692.5 L548.8 693.3 L550.8 690.4 L553.4 690.1 L554.8 693.3 L556.4 690.1 L559.3 690.3 L561.3 690.0 L563.3 689.5 L564.7 691.5 L566.3 692.1 L567.3 696.7 L568.9 695.8 L570.3 698.4 L572.2 702.2 L573.8 702.9 L574.6 708.1 L576.2 705.1 L578.2 707.3 L579.8 710.0 L581.2 706.4 L583.2 706.2 L585.1 707.3 L587.1 710.0 L589.1 708.2 L591.7 707.7 L593.7 706.2 L595.7 708.9 L598.0 709.2 L600.0 711.2 L602.0 707.8 L604.4 708.2 L606.0 705.4 L608.0 704.9 L610.0 706.4 L611.9 707.3 L613.5 709.2 L614.9 709.5 L616.9 712.7 L619.5 711.0 L621.9 712.7 L624.2 710.3 L626.2 708.8 L628.8 711.1 L631.4 709.5 L633.4 710.6 L635.4 710.3 L637.7 711.5 L640.7 710.7 L643.7 711.7 L646.7 712.5 L649.6 712.7 L653.2 714.3 L655.2 712.1 L657.2 711.9 L659.2 710.3 L660.6 706.7 L662.6 706.3 L664.5 704.5 L665.9 703.6 L667.9 705.1 L670.5 707.0 L672.5 705.1 L674.5 702.6 L675.8 701.5 L677.0 701.9 L678.4 700.0 L680.4 701.7 L683.4 698.6 L685.4 699.5 L687.0 699.7 L688.4 701.2 L690.3 701.0 L692.3 697.3 L696.3 697.1 L699.3 699.3 L701.3 697.5 L704.2 697.4 L705.6 699.2 L708.2 697.5 L710.8 696.6 L712.2 695.1 L714.2 694.3 L715.5 699.5 L717.1 700.1 L719.1 701.1 L721.1 700.3 L723.1 700.8 L725.1 698.5 L729.0 698.2 L731.0 699.7 L733.0 704.7 L735.0 701.4 L737.0 703.0 L739.0 702.6 L741.0 704.4 L742.9 704.1 L744.9 699.2 L746.9 698.5 L748.9 698.0 L750.9 695.4 L752.5 692.1 L753.9 693.3 L756.5 692.3 L758.5 690.1 L760.5 690.8 L762.5 689.9 L763.5 686.7 L765.9 686.8 L768.4 685.7 L770.0 682.7 L772.4 687.1 L774.4 687.0 L776.4 685.2 L779.0 689.2 L781.3 686.0 L784.3 686.8 L786.9 685.2 L789.7 687.0 L792.3 685.7 L793.7 681.4 L795.6 681.8 L797.6 683.6 L800.2 684.1 L802.2 683.1 L804.2 687.7 L806.2 687.9 L807.1 690.5 L809.5 688.3 L812.1 691.1 L815.1 688.9 L817.1 693.3 L820.1 689.9 L823.0 690.4 L825.0 691.8 L826.6 697.3 L829.0 696.4 L831.4 696.2 L833.9 699.0 L836.5 696.7 L838.9 699.4 L840.9 697.8 L843.3 700.0 L845.9 699.2 L847.8 699.2 L849.2 697.8 L851.2 696.0 L854.8 696.0 L856.4 698.9 L858.4 699.7 L861.1 698.8 L863.7 699.4 L865.7 700.8 L867.4 702.6 L869.4 704.0 L872.4 703.7 L875.0 702.2 L877.4 703.0 L879.7 703.0 L882.3 703.7 L884.3 705.1 L886.3 709.7 L888.3 708.5 L891.3 708.1 L894.2 707.4 L897.2 707.0 L899.6 706.6 L901.6 708.1 L903.2 704.1 L906.1 703.7 L908.1 701.9 L910.1 701.6 L912.7 703.3 L915.1 703.6 L917.5 701.5 L919.4 702.6 L921.0 705.2 L923.0 705.6 L925.0 707.9 L927.4 707.5 L929.4 706.3 L931.9 707.3 L933.9 701.8 L935.9 701.6 L938.5 705.9 L940.9 706.4 L942.9 707.1 L944.9 703.8 L947.2 706.4 L949.8 707.4 L951.8 706.2 L954.4 704.5 L956.8 703.7 L958.7 703.4 L960.7 704.5 L963.1 702.7 L965.1 701.6 L967.1 701.2 L968.7 699.6 L971.6 699.3 L973.6 700.5 L976.2 700.1 L978.6 699.6 L980.6 702.3 L982.6 702.5 L984.5 703.1 L986.1 703.4 L987.5 705.9 L989.5 704.7 L991.5 705.5 L993.5 704.9 L995.5 705.6 L997.4 704.1 L1000.0 705.1 L1002.4 705.9 L1004.8 705.1 L1006.8 707.0 L1008.8 705.8 L1011.3 707.4 L1013.9 706.7 L1015.9 705.8 L1017.9 708.4 L1020.3 709.4 L1022.3 713.3 L1023.8 713.4 L1025.8 715.0 L1027.8 714.5 L1029.8 713.1 L1031.8 714.3 L1033.8 715.1 L1036.4 714.1 L1038.7 714.7 L1040.7 714.5 L1042.7 715.0 L1045.7 715.3 L1047.7 714.5 L1049.1 712.7 L1051.0 712.8 L1053.6 714.3 L1056.2 714.2 L1058.2 713.1 L1060.6 713.6 L1062.6 714.5 L1064.5 716.1 L1066.1 718.8 L1067.5 720.9 L1069.5 721.0 L1070.9 722.7 L1072.9 723.5 L1074.9 722.5 L1077.4 722.4 L1079.4 722.0 L1082.0 721.6 L1084.4 722.1 L1086.8 722.7 L1089.3 723.2 L1091.9 723.5 L1093.9 722.7 L1096.3 722.4 L1097.9 721.6 L1100.3 721.7 L1102.3 723.0 L1103.8 723.4 L1105.8 722.7 L1108.2 722.1 L1110.2 721.7 L1111.8 720.2 L1113.8 719.9 L1116.1 720.4 L1118.1 720.9 L1120.5 721.7 L1122.5 719.8 L1124.5 719.5 L1127.1 719.9 L1130.0 720.4 L1133.0 720.6 L1135.6 720.1 L1138.0 719.9 L1140.4 719.5 L1142.3 719.1 L1144.9 719.0 L1147.5 719.4 L1149.9 720.1 L1151.5 721.6 L1153.9 721.9 L1156.8 721.6 L1159.8 721.7 L1161.8 722.7 L1163.8 723.1 L1166.8 722.8 L1169.7 723.0 L1172.7 723.1 L1174.7 723.9 L1176.7 723.5 L1178.7 721.9 L1180.7 721.0 L1182.6 720.9 L1184.0 722.7 L1186.6 723.0 L1189.6 723.1 L1192.6 723.8 L1195.5 724.1 L1198.5 723.6 L1201.5 723.5 L1204.5 723.2 L1207.5 723.5 L1209.8 722.7 L1212.4 723.0 L1215.4 723.4 L1218.4 723.6 L1221.3 723.5 L1224.3 723.6 L1227.3 723.4 L1230.3 723.6 L1233.3 723.5 L1236.2 723.0 L1238.8 722.1 L1241.2 722.4 L1244.2 722.5 L1247.1 722.4 L1250.1 721.9 L1252.7 722.3 L1254.1 726.5 L1256.7 725.6 L1259.1 725.8 L1263.0 725.8 L1266.0 725.7 L1270.0 726.5 L1273.0 725.8 L1276.9 726.0 L1280.9 725.6 L1284.9 725.6 L1288.8 725.6 L1292.8 725.4 L1296.8 725.3 L1298.4 724.9 L1300.7 725.7 L1303.6 725.8 L1307.5 725.6 L1311.5 725.6 L1315.5 725.7 L1319.4 726.0 L1323.4 725.8 L1327.4 725.6 L1331.4 725.4 L1333.7 724.9 L1335.7 723.5 L1337.7 722.1 L1340.3 721.9 L1342.9 721.7 L1344.9 720.8 L1347.2 720.4 L1351.2 720.2 L1354.2 719.8 L1357.2 720.2 L1360.1 719.7 L1363.1 719.9 L1365.5 720.4 L1368.1 720.2 L1370.1 720.5 L1372.0 721.2 L1375.0 721.3 L1377.4 720.8 L1379.0 719.1 L1382.0 718.8 L1384.6 718.7 L1386.9 719.0 L1389.3 719.5 L1391.3 720.1 L1393.9 719.8 L1396.5 720.1 L1398.8 719.9 L1400.8 720.8 L1403.8 721.0 L1405.8 721.6 L1407.8 722.7 L1409.8 722.1 L1411.7 718.8 L1413.7 718.7 L1415.7 716.9 L1418.7 716.1 L1421.7 716.2 L1424.6 715.8 L1427.6 716.2 L1430.6 716.1 L1433.6 715.6 L1436.2 715.6 L1438.5 716.0 L1441.5 715.8 L1444.1 715.7 L1446.1 715.4 L1448.1 714.2 L1451.4 713.9 L1454.4 714.1 L1457.4 713.9 L1459.4 715.0 L1461.4 716.5 L1463.9 715.0 L1465.9 714.7 L1467.9 715.7 L1470.3 716.1 L1473.3 716.8 L1476.3 716.9 L1479.2 716.5 L1482.2 716.8 L1485.2 716.7 L1488.2 717.1 L1491.1 717.2 L1493.7 716.0 L1496.5 716.2 L1499.1 716.8 L1501.7 716.5 L1504.4 717.7 L1506.4 716.9 L1509.0 717.3 L1511.6 717.7 L1514.0 717.6 L1516.3 718.3 L1518.9 717.3 L1521.5 717.2 L1522.9 715.0 L1524.9 714.5 L1527.5 713.6 L1530.8 713.8 L1533.8 713.9 L1536.8 713.6 L1539.8 713.2 L1542.7 713.8 L1544.7 714.2 L1547.7 713.8 L1550.7 713.6 L1552.7 713.0 L1554.7 713.8 L1557.6 714.1 L1560.6 714.2 L1563.6 714.3 L1566.0 714.2 L1568.6 714.7 L1571.5 714.9 L1574.5 714.7 L1577.5 714.6 L1580.5 714.9 L1583.4 715.0 L1585.8 714.5 L1588.4 714.7 L1591.4 714.7 L1594.4 714.7 L1596.3 715.3 L1598.3 717.5 L1601.3 717.5 L1605.3 717.4 L1609.2 717.6 L1611.6 716.1 L1613.6 717.6 L1617.2 717.8 L1621.2 717.7 L1625.1 717.8 L1628.7 718.3 L1631.1 717.5 L1634.1 717.2 L1637.0 717.1 L1639.4 716.7 L1642.0 717.2 L1645.0 717.2 L1648.9 717.3 L1651.9 716.8 L1654.5 716.0 L1656.9 716.4 L1659.9 716.1 L1662.4 716.0 L1664.8 716.4 L1667.8 716.9 L1670.8 716.8 L1673.2 715.7 L1675.7 715.6 L1678.3 714.7 L1680.7 714.2 L1682.3 711.4 L1684.4 710.6 L1687.4 710.4 L1690.4 710.1 L1693.4 709.5 L1695.3 709.9 L1698.3 709.8 L1701.3 709.4 L1703.7 708.8 L1705.7 707.8 L1707.6 708.4 L1710.2 709.1 L1711.6 707.5 L1713.6 708.7 L1716.2 708.0 L1719.2 708.8 L1721.1 707.9 L1724.1 707.6 L1727.1 707.8 L1730.1 707.2 L1732.7 706.1 L1734.6 704.2 L1736.0 702.0 L1738.6 702.1 L1741.0 701.7 L1743.0 702.3 L1745.0 704.2 L1746.9 703.1 L1749.3 703.6 L1751.9 704.1 L1754.5 702.8 L1756.9 702.0 L1759.2 702.1 L1761.8 702.5 L1764.8 703.0 L1767.8 703.5 L1770.4 702.5 L1772.4 701.0 L1774.4 702.8 L1776.3 701.7 L1778.9 701.9 L1780.3 699.4 L1783.3 699.5 L1784.9 701.4 L1786.3 702.8 L1788.3 703.6 L1790.2 702.7 L1792.2 703.9 L1794.8 704.0 L1796.8 705.0 L1798.2 705.8 L1801.2 705.4 L1802.7 703.6 L1805.1 703.4 L1807.1 702.5 L1809.5 702.9 L1812.1 702.7 L1814.7 703.1 L1817.0 702.3 L1819.0 700.3 L1821.0 698.8 L1823.4 697.7 L1825.0 696.5 L1827.0 695.1 L1829.9 694.7 L1832.5 694.9 L1834.9 694.7 L1836.9 695.4 L1838.9 696.0 L1840.9 695.1 L1842.4 693.0 L1843.2 686.5 L1844.8 685.7 L1846.8 686.4 L1848.8 684.3 L1850.8 680.8 L1852.4 682.4 L1854.4 681.6 L1856.3 680.6 L1858.3 679.3 L1859.7 677.5 L1862.3 676.4 L1864.3 677.3 L1865.7 679.9 L1867.7 680.8 L1868.6 683.0 L1870.2 685.7 L1871.6 684.6 L1873.0 684.1 L1875.0 681.9 L1877.0 679.3 L1879.6 679.0 L1882.1 679.1 L1884.5 678.2 L1886.5 680.5 L1887.5 683.0 L1889.5 682.1 L1890.9 680.8 L1893.5 680.1 L1895.4 677.8 L1897.4 678.8 L1899.4 679.1 L1900.8 680.5 L1902.4 684.3" fill="none" stroke="#a3b7de" stroke-width="0.9"/>
<g><rect x="149.3" y="693.2" width="14" height="25.6" rx="6.9" fill="#2f3348"/><path d="M154.5 701.5v9M158.2 701.5v9" stroke="#d5d9e6" stroke-width="1"/>
<rect x="1894.2" y="693.2" width="14" height="25.6" rx="6.9" fill="#2f3348"/><path d="M1899.4 701.5v9M1903.1 701.5v9" stroke="#d5d9e6" stroke-width="1"/></g>
<!-- jinse logo -->
<g filter="url(#sh2)" fill="#f5a70a"><rect x="1674.7" y="726.3" width="18.8" height="18.8"/><rect x="1649" y="751.7" width="19" height="19.8"/><path d="M1700 726.3h19v67.7h-70v-16h51z"/></g>
<g filter="url(#sh)" fill="#ededed"><g transform="translate(1730,722) scale(0.09862)" fill-rule="evenodd"><path d="M75 340L290 105L500 105L715 340L650 375L460 190L330 190L145 375Z"/><path d="M225 315H565V375H225Z"/><path d="M360 375H430V640H360Z"/><path d="M115 440H650V510H115Z"/><path d="M195 545H255V620H195Z"/><path d="M515 545H590V620H515Z"/><path d="M115 640H670V710H115Z"/><path d="M820 105L890 105L910 150L1290 150L1262 275L1190 275L1205 215L810 215L810 150Z"/><path d="M790 275H1340V540H790ZM870 345H1030V480H870ZM1090 345H1265V480H1090Z"/><path d="M790 540H865V710H790Z"/><path d="M790 645H1340V710H790Z"/><path d="M1290 590H1340V645H1290Z"/></g><g transform="translate(1862,722) scale(0.09862)" fill-rule="evenodd"><path d="M105 120H385V545H105ZM165 185H325V545H165Z"/><path d="M225 250L285 250L285 520L420 690L355 720L255 590L150 720L85 690L225 520Z"/><path d="M430 165H720V225H430Z"/><path d="M600 105H665V700H600Z"/><path d="M530 640H600V700H530Z"/><path d="M585 230L640 230L490 610L430 590Z"/><path d="M860 340L935 365L885 500L975 500L975 575L790 575L795 540Z"/><path d="M775 640H975V705H775Z"/><path d="M1020 130H1380V190H1020Z"/><path d="M1320 170L1390 185L1065 425L1015 380Z"/><path d="M1160 320L1215 280L1410 400L1375 450Z"/><path d="M1040 440H1390V505H1040Z"/><path d="M1170 505H1240V640H1170Z"/><path d="M1010 640H1400V705H1010Z"/></g></g>
<g transform="translate(1862,722) scale(0.09862)" filter="url(#sh2)"><path d="M860 108L937 130L848 338L773 318Z" fill="#f5a70a"/></g>
</svg>
</body></html>
